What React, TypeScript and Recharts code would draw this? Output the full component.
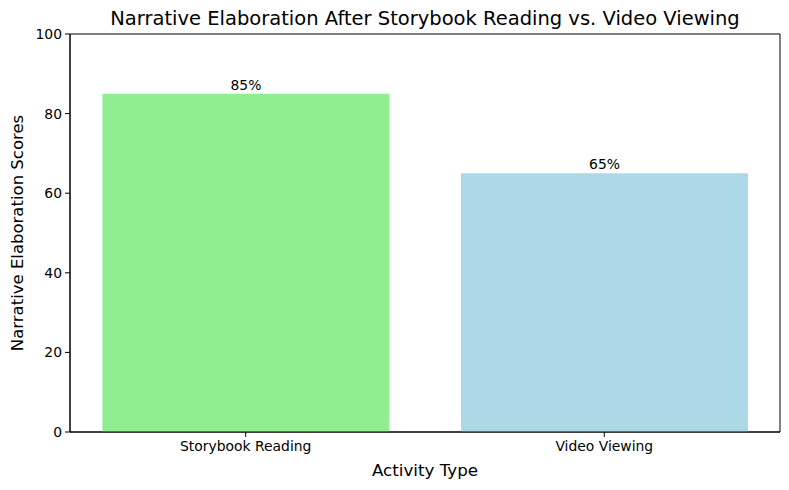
import { BarChart, Bar, XAxis, YAxis, LabelList, ReferenceArea, Cell } from 'recharts';

// categories and scores
const activities = ['Storybook Reading', 'Video Viewing'];
const scores = [85, 65];
const barColors = ['#90EE90', '#ADD8E6'];
const yTicks = [0, 20, 40, 60, 80, 100];

const data = activities.map((name, i) => ({ pos: i, name, score: scores[i] }));

const font = 'DejaVu Sans, sans-serif';

export default function App() {
  return (
    <div style={{ position: 'absolute', left: 0, top: 0, background: '#fff' }}>
      <BarChart
        width={789}
        height={490}
        data={data}
        margin={{ top: 34, right: 9, bottom: 0, left: 0 }}
        style={{ fontFamily: font }}
      >
        <text x={425} y={25} textAnchor="middle" fontSize={19.5} fill="#000" fontFamily={font}>
          Narrative Elaboration After Storybook Reading vs. Video Viewing
        </text>
        <XAxis
          dataKey="pos"
          type="number"
          domain={[-0.49, 1.49]}
          ticks={[0, 1]}
          tickFormatter={(v: number) => activities[v]}
          height={58}
          tickSize={5}
          tickMargin={4}
          stroke="#000"
          tick={{ fill: '#000', fontSize: 13.9 }}
          allowDataOverflow
          label={{ value: 'Activity Type', position: 'insideBottom', offset: 14, fill: '#000', fontSize: 16.7 }}
        />
        <YAxis
          domain={[0, 100]}
          ticks={yTicks}
          width={70}
          tickSize={5}
          tickMargin={3}
          stroke="#000"
          tick={{ fill: '#000', fontSize: 13.9 }}
          label={{
            value: 'Narrative Elaboration Scores',
            angle: -90,
            position: 'insideLeft',
            offset: 17,
            fill: '#000',
            fontSize: 16.5,
            style: { textAnchor: 'middle' },
          }}
        />
        <ReferenceArea x1={-0.49} x2={1.49} y1={0} y2={100} fill="none" stroke="#000" strokeWidth={1} ifOverflow="visible" />
        <Bar dataKey="score" barSize={287} isAnimationActive={false}>
          {data.map((d, i) => (
            <Cell key={d.name} fill={barColors[i]} />
          ))}
          <LabelList
            dataKey="score"
            position="top"
            offset={4}
            formatter={(v: number) => `${v}%`}
            fill="#000"
            fontSize={13.9}
          />
        </Bar>
      </BarChart>
    </div>
  );
}
